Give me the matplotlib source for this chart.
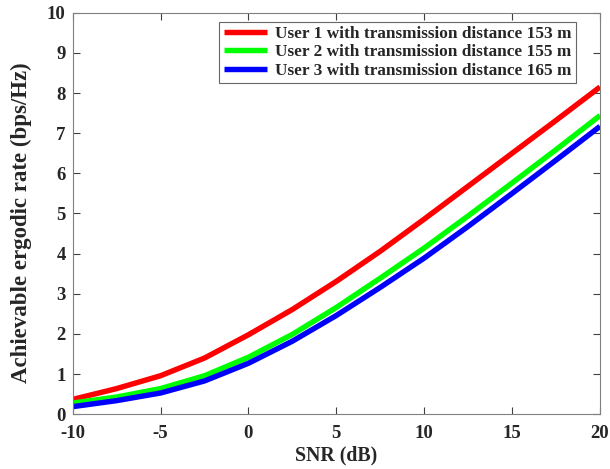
import matplotlib
matplotlib.use("Agg")
import matplotlib.pyplot as plt

snr = [-10, -7.5, -5, -2.5, 0, 2.5, 5, 7.5, 10, 12.5, 15, 17.5, 20]
user1 = [0.37, 0.64, 0.96, 1.40, 1.98, 2.61, 3.31, 4.06, 4.86, 5.68, 6.50, 7.32, 8.15]
user2 = [0.28, 0.43, 0.64, 0.96, 1.42, 1.99, 2.66, 3.39, 4.14, 4.94, 5.76, 6.59, 7.44]
user3 = [0.19, 0.34, 0.53, 0.83, 1.27, 1.82, 2.46, 3.16, 3.89, 4.68, 5.50, 6.33, 7.17]
labels = ["User 1 with transmission distance 153 m",
          "User 2 with transmission distance 155 m",
          "User 3 with transmission distance 165 m"]
xticks = [-10, -5, 0, 5, 10, 15, 20]
yticks = list(range(0, 11))

plt.rcParams['font.family'] = ['Liberation Serif', 'DejaVu Serif']
plt.rcParams['font.weight'] = 'bold'
plt.rcParams['axes.unicode_minus'] = False

fig = plt.figure(figsize=(6.10, 4.69), dpi=100)
ax = fig.add_axes([72.6/610, 1-414.3/469, 527.4/610, 401.6/469])

for y, c, l in zip([user1, user2, user3], ['#ff0000', '#00ff00', '#0000ff'], labels):
    ax.plot(snr, y, color=c, lw=3.9, label=l, solid_capstyle='butt', solid_joinstyle='round')

ax.set_xlim(-10, 20)
ax.set_ylim(0, 10)
ax.set_xticks(xticks)
ax.set_yticks(yticks)
ax.tick_params(direction='in', top=True, right=True, labelsize=13.5, length=5, width=0.8,
               color='#404040')
ax.tick_params(axis='x', pad=8)
ax.tick_params(axis='y', pad=5)
for lab in ax.get_xticklabels() + ax.get_yticklabels():
    lab.set_fontweight('bold')
    lab.set_color('#262626')
for s in ax.spines.values():
    s.set_color('#808080')
    s.set_linewidth(0.8)

ax.set_xlabel('SNR (dB)', fontsize=14.3, fontweight='bold', color='#262626', labelpad=2.5)
ax.set_ylabel('Achievable ergodic rate (bps/Hz)', fontsize=16.5, fontweight='bold',
              color='#262626')
ax.yaxis.set_label_coords(-0.077, 0.476)

leg = ax.legend(loc='upper right', bbox_to_anchor=(0.9545, 0.9776),
                prop={'weight': 'bold', 'size': 12.4},
                frameon=True, fancybox=False, handlelength=2.5, borderpad=0.25,
                labelspacing=0.13, handletextpad=0.5, borderaxespad=0.0)
leg.get_frame().set_edgecolor('#404040')
leg.get_frame().set_linewidth(0.8)
for t in leg.get_texts():
    t.set_color('#262626')

fig.savefig('out.png', dpi=100)
